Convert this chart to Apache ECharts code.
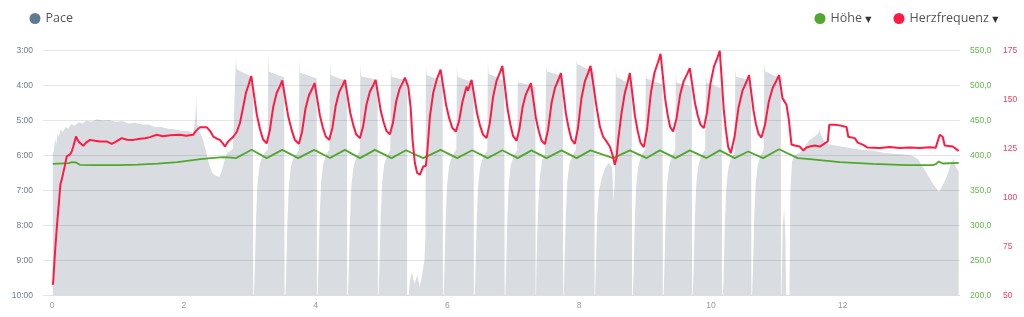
<!DOCTYPE html>
<html><head><meta charset="utf-8">
<script src="https://cdn.jsdelivr.net/npm/echarts@6/dist/echarts.min.js"></script>
<style>html,body{margin:0;padding:0;background:#fff}#c{width:1024px;height:317px}</style>
</head><body><div id="c"></div>
<script>
// x ticks (km)
const xTicks = [0, 2, 4, 6, 8, 10, 12];
// Pace [km, seconds per km]
const paceData = [
[0.008,356],[0.025,352],[0.045,330],[0.06,342],[0.08,322],[0.10,328],[0.13,315],[0.16,320],[0.20,311],[0.24,314],[0.29,306],[0.34,309],[0.40,303],[0.46,305],[0.52,300],[0.60,302],[0.68,298],[0.76,300],[0.86,299],[0.96,302],[1.06,301],[1.16,305],[1.26,304],[1.36,307],[1.46,307],[1.56,311],[1.66,311],[1.76,314],[1.86,315],[1.96,318],[2.06,318],[2.14,321],[2.17,300],[2.185,262],[2.20,305],[2.23,318],[2.28,330],[2.33,350],[2.38,375],[2.43,390],[2.49,395],[2.54,396],[2.58,385],[2.62,365],[2.66,355],[2.71,352],[2.745,348],[2.77,250],
[2.789,192],[2.801,212],[2.918,219],[3.047,226],
[3.052,630],[3.065,630],[3.074,560],[3.093,470],[3.115,410],[3.146,378],[3.191,360],[3.270,350],
[3.279,187],[3.291,216],[3.400,221],[3.522,226],
[3.527,630],[3.540,630],[3.549,575],[3.568,480],[3.590,415],[3.621,380],[3.666,362],[3.744,352],
[3.753,195],[3.765,218],[3.883,223],[4.014,228],
[4.019,630],[4.032,630],[4.041,550],[4.060,465],[4.082,405],[4.113,375],[4.158,358],[4.207,350],
[4.216,200],[4.228,222],[4.344,227],[4.473,232],
[4.478,630],[4.491,630],[4.500,565],[4.519,475],[4.541,412],[4.572,380],[4.617,362],[4.669,352],
[4.678,205],[4.690,224],[4.808,227],[4.939,230],
[4.944,630],[4.957,630],[4.966,555],[4.985,468],[5.007,408],[5.038,376],[5.083,360],[5.132,350],
[5.141,208],[5.153,225],[5.262,228],[5.384,232],
[5.389,630],[5.41,630],[5.43,575],[5.46,560],[5.50,580],[5.54,565],[5.58,585],[5.62,560],[5.65,540],[5.665,500],
[5.672,205],[5.684,222],[5.799,227],[5.926,232],
[5.931,630],[5.944,630],[5.953,560],[5.972,472],[5.994,410],[6.025,378],[6.070,360],[6.134,350],
[6.143,208],[6.155,225],[6.270,230],[6.396,235],
[6.401,630],[6.414,630],[6.423,570],[6.442,478],[6.464,414],[6.495,380],[6.540,362],[6.604,352],
[6.613,198],[6.625,220],[6.738,226],[6.863,232],
[6.868,630],[6.881,630],[6.890,555],[6.909,466],[6.931,406],[6.962,376],[7.007,360],[7.059,350],
[7.068,228],[7.080,235],[7.201,238],[7.334,242],
[7.339,630],[7.352,545],[7.361,500],[7.380,440],[7.402,398],[7.433,370],[7.478,358],[7.492,355],
[7.501,207],[7.513,216],[7.626,220],[7.751,225],
[7.756,630],[7.769,630],[7.778,540],[7.797,460],[7.819,405],[7.850,375],[7.895,360],[7.950,350],
[7.959,196],[7.971,203],[8.094,210],[8.229,216],
[8.234,630],[8.25,630],[8.27,470],[8.30,420],[8.35,395],[8.40,380],[8.45,372],[8.50,380],[8.52,440],[8.54,400],
[8.556,210],[8.568,225],[8.677,232],[8.798,238],
[8.803,630],[8.816,630],[8.825,560],[8.844,470],[8.866,410],[8.897,378],[8.942,360],[9.002,350],
[9.011,212],[9.023,228],[9.137,233],[9.264,238],
[9.269,630],[9.282,630],[9.291,565],[9.310,474],[9.332,412],[9.363,379],[9.408,361],[9.457,351],
[9.466,218],[9.478,235],[9.587,238],[9.709,242],
[9.714,630],[9.727,630],[9.736,558],[9.755,468],[9.777,408],[9.808,377],[9.853,360],[9.912,350],
[9.921,220],[9.933,235],[10.042,240],[10.164,245],
[10.169,630],[10.182,630],[10.191,570],[10.210,480],[10.232,415],[10.263,382],[10.308,364],[10.360,354],
[10.369,210],[10.381,225],[10.489,228],[10.609,232],
[10.614,630],[10.627,630],[10.636,560],[10.655,470],[10.677,410],[10.708,378],[10.753,360],[10.800,350],
[10.809,200],[10.821,215],[10.934,222],[11.059,228],
[11.064,630],[11.08,630],[11.09,480],[11.11,450],[11.13,500],[11.145,630],[11.19,630],[11.205,420],[11.23,370],[11.27,360],[11.35,355],[11.42,345],[11.50,333],[11.57,328],[11.63,322],[11.65,315],[11.67,325],[11.74,340],[11.85,342],[12.00,345],[12.15,348],[12.30,350],[12.45,352],[12.60,355],[12.75,357],[12.90,358],[13.05,360],[13.14,366],[13.22,380],[13.30,395],[13.38,410],[13.46,422],[13.52,410],[13.58,396],[13.64,375],[13.685,365],[13.72,380],[13.76,387]
];
// Höhe [km, m]
const altData = [
[0.008,388],[0.25,389],[0.30,390.5],[0.32,391],[0.36,390],[0.42,386.7],[0.6,386.3],[1.0,386.2],[1.3,387],[1.6,388.5],[1.9,390.5],[2.25,394.9],[2.45,396.5],[2.6,397.7],[2.72,397],[2.79,396.3],
[3.027,408.2],[3.255,396.3],[3.492,408],[3.734,396.3],[3.977,408],[4.216,396.5],[4.443,408],[4.671,396.3],[4.898,408],[5.152,396.3],[5.369,407.5],[5.631,396.3],[5.895,408],[6.147,396.3],[6.375,407.5],[6.609,396.3],[6.833,407.5],[7.064,396.3],[7.276,407.3],[7.504,396.3],[7.731,407.3],[7.959,396.3],[8.171,407.3],[8.515,396.3],[8.768,407.3],[9.022,396.3],[9.223,407.3],[9.461,396.3],[9.678,407.3],[9.932,396.3],[10.133,407.3],[10.361,396.3],[10.563,405.7],[10.791,396.3],[11.033,409],
[11.317,396.3],[11.500,394.9],[11.955,390.5],[12.456,388.1],[12.967,386.3],[13.366,386.3],[13.42,388],[13.457,391.5],[13.518,388.6],[13.760,389.6]
];
// Herzfrequenz [km, bpm]
const hrData = [
[0.008,55.4],[0.017,58],[0.042,72],[0.073,86],[0.103,98],[0.125,107],[0.144,109],[0.168,110],[0.19,116],[0.22,121],[0.27,122],[0.296,123.5],[0.32,126],[0.361,131.1],[0.391,129],[0.422,127.8],[0.472,126.4],[0.513,128],[0.574,129.4],[0.649,129],[0.725,128.6],[0.827,128.6],[0.903,127.4],[0.968,128.5],[1.055,130.3],[1.135,129.5],[1.231,129.4],[1.332,130],[1.408,130.2],[1.484,130.8],[1.586,132],[1.681,131.3],[1.788,131.8],[1.939,132],[2.030,131.5],[2.141,132],[2.182,134],[2.243,135.9],[2.344,135.9],[2.395,134],[2.445,131.1],[2.501,130],[2.546,129.4],[2.592,127.5],[2.622,126],[2.668,128.5],[2.748,131],[2.800,133.4],[2.850,138],[2.900,146.4],[2.941,153.5],[2.976,157],[3.021,162],
[3.058,153.4],[3.105,142.4],[3.152,135.2],[3.199,129.7],[3.255,127.6],
[3.302,134.0],[3.355,146.2],[3.407,153.3],[3.456,156.8],[3.492,159.7],[3.532,151.6],[3.583,141.3],[3.634,134.5],[3.684,129.3],[3.745,127.4],
[3.793,133.6],[3.845,145.4],[3.897,152.2],[3.947,155.6],[3.983,158.4],[4.019,151.1],[4.063,141.9],[4.107,135.8],[4.152,131.1],[4.205,129.4],
[4.253,135.5],[4.305,147.1],[4.357,153.9],[4.407,157.2],[4.443,160],[4.479,152.6],[4.525,143.1],[4.571,136.8],[4.616,132.1],[4.671,130.3],
[4.719,136.2],[4.771,147.5],[4.823,154.1],[4.873,157.3],[4.909,160],[4.944,153.1],[4.987,144.2],[5.031,138.4],[5.074,133.9],[5.126,132.3],
[5.172,138.1],[5.222,149.1],[5.272,155.4],[5.320,158.6],[5.354,161.2],[5.404,156.6],[5.440,146.4],[5.470,129.4],[5.505,117.6],[5.540,112.5],[5.581,111.6],[5.607,112.5],[5.631,115.8],[5.672,116.2],[5.692,122.7],[5.733,141.3],[5.783,153.3],[5.835,160],[5.895,165.2],
[5.932,157.3],[5.979,147.2],[6.025,140.6],[6.072,135.6],[6.128,133.7],
[6.176,139.0],[6.228,149.0],[6.290,156.6],[6.310,154.5],[6.366,160],[6.402,152.6],[6.448,143.1],[6.493,136.8],[6.539,132.1],[6.593,130.3],
[6.641,137.7],[6.694,151.7],[6.747,159.8],[6.797,163.9],[6.833,167.2],[6.868,157.7],[6.911,145.4],[6.954,137.4],[6.997,131.3],[7.049,129],
[7.092,134.9],[7.140,146.1],[7.188,152.5],[7.233,155.8],[7.266,158.4],[7.300,150.6],[7.342,140.6],[7.385,134.1],[7.427,129.1],[7.478,127.2],
[7.527,134.5],[7.580,148.3],[7.634,156.2],[7.685,160.2],[7.721,163.5],[7.755,154.5],[7.797,142.9],[7.840,135.3],[7.882,129.6],[7.933,127.4],
[7.981,135.4],[8.033,150.5],[8.085,159.2],[8.135,163.6],[8.171,167.2],[8.211,158.4],[8.262,146.4],[8.313,136.2],[8.363,131],[8.414,128.6],[8.464,126],[8.505,121.8],[8.540,116.7],[8.566,120.1],[8.591,129.4],[8.642,143.1],[8.692,153.3],[8.733,158.4],[8.768,163.5],
[8.802,154.1],[8.844,142],[8.887,134],[8.929,128],[8.980,125.7],
[9.031,135.2],[9.087,153.3],[9.143,163.8],[9.196,169.0],[9.234,173.3],[9.265,163.4],[9.303,150.7],[9.341,142.4],[9.379,136.1],[9.425,133.7],
[9.476,140.2],[9.531,152.4],[9.587,159.5],[9.640,163.1],[9.678,166],[9.712,158.4],[9.755,148.6],[9.797,142.1],[9.840,137.2],[9.891,135.4],
[9.939,143.3],[9.993,158.3],[10.046,166.9],[10.097,171.3],[10.133,174.8],[10.160,161.8],[10.193,145.1],[10.227,134.2],[10.261,125.8],[10.301,122.7],
[10.356,130.6],[10.417,145.7],[10.478,154.5],[10.536,158.8],[10.578,162.4],[10.608,154.4],[10.646,144.3],[10.683,137.4],[10.721,132.5],[10.766,130.6],
[10.819,137.0],[10.878,149.0],[10.937,156.0],[10.993,159.6],[11.033,162.4],
[11.085,150.7],[11.146,147.3],[11.181,140],[11.222,127],[11.272,126.5],[11.348,126],[11.40,124],[11.424,123.5],[11.45,125.5],[11.500,126],[11.576,126.5],[11.652,126],[11.773,128.6],[11.795,137.1],[11.879,137.1],[11.955,136.8],[12.057,136],[12.084,131],[12.182,130.3],[12.228,128],[12.303,127],[12.380,125.5],[12.562,125.2],[12.714,125.8],[12.865,125.2],[13.017,125.5],[13.169,125.2],[13.320,125.6],[13.411,125.4],[13.472,132],[13.517,131],[13.548,126.5],[13.669,126],[13.760,123.8]
];

const C_PACE = '#5e7b90', C_AREA = '#d9dde1', C_ALT = '#4fa82d', C_HR = '#ff1a44';
const legendText = {fontFamily: 'Open Sans', fontSize: 12.5, color: '#555',
  rich: {t: {fontFamily: 'DejaVu Sans', fontSize: 8, color: '#333', padding: [2, 0, 0, 0]}}};
const legendBase = {orient: 'horizontal', icon: 'circle', itemWidth: 11, itemHeight: 11, padding: 0,
  top: 12, selectedMode: false, textStyle: legendText};
const fmtPace = v => Math.floor(v / 60) + ':' + String(Math.round(v % 60)).padStart(2, '0');

const chart = echarts.init(document.getElementById('c'), null, {renderer: 'canvas'});
chart.setOption({
  animation: false,
  grid: {left: 43, right: 64, top: 50.5, height: 245, containLabel: false},
  legend: [
    Object.assign({}, legendBase, {left: 29.5, data: [{name: 'Pace', itemStyle: {color: C_PACE}}]}),
    Object.assign({}, legendBase, {left: 814.5, data: [{name: 'Höhe', itemStyle: {color: C_ALT}}],
      formatter: n => n + ' {t|▼}'}),
    Object.assign({}, legendBase, {left: 893.5, data: [{name: 'Herzfrequenz', itemStyle: {color: C_HR}}],
      formatter: n => n + ' {t|▼}'})
  ],
  xAxis: {
    type: 'value', min: -0.14, max: 13.78, splitNumber: 7,
    axisLine: {show: false}, axisTick: {show: false}, splitLine: {show: false},
    axisLabel: {
      customValues: xTicks,
      margin: 6, fontSize: 8.5, fontFamily: 'Liberation Sans', color: '#999',
      formatter: v => (xTicks.indexOf(Math.round(v * 1000) / 1000) >= 0 ? String(Math.round(v)) : '')
    }
  },
  yAxis: [
    {type: 'value', inverse: true, min: 180, max: 600, interval: 60, position: 'left', z: 3,
      axisLine: {show: false}, axisTick: {show: false},
      splitLine: {show: true, lineStyle: {color: 'rgba(0,0,0,0.1)', width: 1}},
      axisLabel: {margin: 10, fontSize: 8.5, fontFamily: 'Liberation Sans', color: '#6b7b8c', formatter: fmtPace}},
    {type: 'value', min: 200, max: 550, interval: 50, position: 'right',
      axisLine: {show: false}, axisTick: {show: false}, splitLine: {show: false},
      axisLabel: {margin: 10, fontSize: 8.5, fontFamily: 'Liberation Sans', color: '#62b64a',
        formatter: v => v.toFixed(1).replace('.', ',')}},
    {type: 'value', min: 50, max: 175, interval: 25, position: 'right', offset: 33,
      axisLine: {show: false}, axisTick: {show: false}, splitLine: {show: false},
      axisLabel: {margin: 10, fontSize: 8.5, fontFamily: 'Liberation Sans', color: '#ff3a5c'}}
  ],
  series: [
    {name: 'Pace', type: 'line', yAxisIndex: 0, data: paceData, showSymbol: false, symbol: 'none', z: 2,
      itemStyle: {color: C_PACE}, lineStyle: {width: 0, opacity: 0},
      areaStyle: {color: C_AREA, opacity: 1, origin: 'end'}},
    {name: 'Höhe', type: 'line', yAxisIndex: 1, data: altData, showSymbol: false, symbol: 'none', z: 5,
      itemStyle: {color: C_ALT}, lineStyle: {width: 1.8, color: C_ALT}},
    {name: 'Herzfrequenz', type: 'line', yAxisIndex: 2, data: hrData, showSymbol: false, symbol: 'none', z: 6,
      itemStyle: {color: C_HR}, lineStyle: {width: 2, color: C_HR}}
  ]
});
</script></body></html>
